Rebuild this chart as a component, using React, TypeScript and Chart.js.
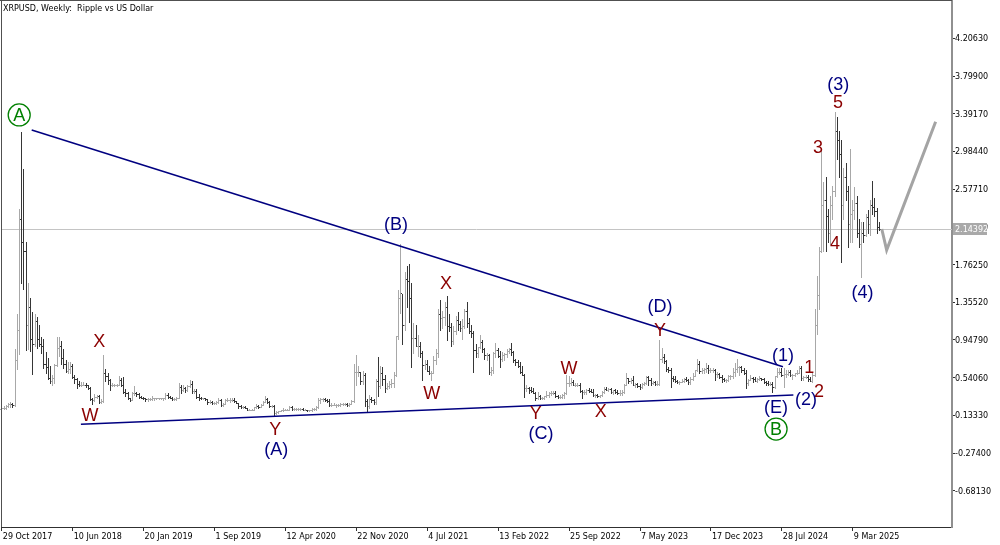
import React, { useEffect, useRef } from "react";
import { Chart, registerables } from "chart.js";

Chart.register(...registerables);

// ---------- data ----------
const chartTitle = "XRPUSD, Weekly:  Ripple vs US Dollar";
const dateLabels = [
  "29 Oct 2017", "10 Jun 2018", "20 Jan 2019", "1 Sep 2019", "12 Apr 2020", "22 Nov 2020",
  "4 Jul 2021", "13 Feb 2022", "25 Sep 2022", "7 May 2023", "17 Dec 2023", "28 Jul 2024", "9 Mar 2025",
];
const weeksPerLabel = 32;
const priceTicks = [4.2063, 3.799, 3.3917, 2.9844, 2.5771, 2.1698, 1.7625, 1.3552, 0.9479, 0.5406, 0.1333, -0.274, -0.6813];
const lastPrice = 2.14392;
const firstOpen = 0.2;

// weekly bars from 29 Oct 2017 (index 0) to 1 Jun 2025 (index 396)
const highs = [
  0.215, 0.225, 0.24, 0.26, 0.27, 0.26, 0.84, 1.22, 2.36, 3.19,
  2.79, 2.0, 1.56, 1.4, 1.24, 1.22, 1.19, 1.1, 0.97, 0.95,
  0.81, 0.75, 0.66, 0.56, 0.68, 0.97, 0.97, 0.93, 0.84, 0.72,
  0.7, 0.7, 0.68, 0.56, 0.53, 0.5, 0.49, 0.49, 0.48, 0.46,
  0.43, 0.31, 0.36, 0.35, 0.35, 0.3, 0.78, 0.63, 0.58, 0.52,
  0.48, 0.47, 0.47, 0.55, 0.53, 0.54, 0.41, 0.38, 0.31, 0.38,
  0.44, 0.38, 0.37, 0.34, 0.33, 0.32, 0.31, 0.31, 0.34, 0.32,
  0.32, 0.32, 0.32, 0.31, 0.37, 0.37, 0.34, 0.33, 0.31, 0.33,
  0.48, 0.45, 0.45, 0.43, 0.45, 0.51, 0.5, 0.41, 0.41, 0.36,
  0.33, 0.32, 0.32, 0.3, 0.29, 0.28, 0.27, 0.28, 0.32, 0.3,
  0.26, 0.3, 0.31, 0.31, 0.31, 0.31, 0.28, 0.26, 0.24, 0.23,
  0.23, 0.21, 0.2, 0.2, 0.22, 0.25, 0.24, 0.25, 0.28, 0.34,
  0.31, 0.28, 0.24, 0.24, 0.17, 0.17, 0.19, 0.21, 0.2, 0.2,
  0.23, 0.23, 0.21, 0.21, 0.21, 0.21, 0.21, 0.2, 0.19, 0.19,
  0.21, 0.21, 0.23, 0.31, 0.32, 0.32, 0.32, 0.3, 0.3, 0.26,
  0.26, 0.25, 0.25, 0.26, 0.26, 0.26, 0.26, 0.26, 0.29, 0.68,
  0.78, 0.66, 0.6, 0.61, 0.59, 0.3, 0.35, 0.33, 0.3, 0.52,
  0.76, 0.66, 0.65, 0.56, 0.48, 0.5, 0.52, 0.6, 0.99, 1.48,
  1.98, 1.44, 1.68, 1.74, 1.76, 1.56, 1.12, 1.1, 1.0, 0.92,
  0.82, 0.72, 0.72, 0.66, 0.61, 0.77, 0.84, 1.28, 1.37, 1.25,
  1.35, 1.42, 1.22, 1.12, 1.09, 1.2, 1.24, 1.15, 1.17, 1.28,
  1.35, 1.18, 1.1, 1.04, 0.9, 0.87, 1.0, 0.94, 0.85, 0.8,
  0.79, 0.65, 0.81, 0.91, 0.86, 0.82, 0.81, 0.8, 0.84, 0.86,
  0.91, 0.82, 0.74, 0.73, 0.7, 0.66, 0.57, 0.45, 0.43, 0.43,
  0.42, 0.38, 0.38, 0.35, 0.33, 0.34, 0.39, 0.38, 0.39, 0.39,
  0.39, 0.35, 0.35, 0.36, 0.38, 0.56, 0.55, 0.53, 0.51, 0.48,
  0.48, 0.48, 0.4, 0.4, 0.41, 0.42, 0.41, 0.41, 0.36, 0.36,
  0.35, 0.39, 0.43, 0.43, 0.42, 0.42, 0.4, 0.41, 0.4, 0.4,
  0.4, 0.47, 0.58, 0.53, 0.53, 0.55, 0.48, 0.48, 0.47, 0.48,
  0.49, 0.55, 0.55, 0.53, 0.5, 0.5, 0.5, 0.94, 0.85, 0.79,
  0.72, 0.65, 0.64, 0.55, 0.55, 0.51, 0.5, 0.52, 0.53, 0.54,
  0.52, 0.54, 0.58, 0.62, 0.74, 0.71, 0.64, 0.64, 0.69, 0.67,
  0.64, 0.64, 0.63, 0.6, 0.58, 0.56, 0.53, 0.52, 0.56, 0.56,
  0.64, 0.69, 0.74, 0.66, 0.66, 0.64, 0.62, 0.52, 0.56, 0.54,
  0.54, 0.53, 0.55, 0.53, 0.53, 0.5, 0.5, 0.49, 0.49, 0.55,
  0.64, 0.64, 0.64, 0.64, 0.62, 0.62, 0.62, 0.57, 0.59, 0.62,
  0.66, 0.66, 0.55, 0.56, 0.56, 0.54, 0.58, 1.28, 1.63, 1.95,
  3.0, 2.65, 2.7, 2.36, 2.5, 2.6, 3.41, 3.35, 3.2, 3.1,
  2.8, 2.85, 2.6, 3.0, 2.45, 2.59, 2.5, 2.25, 2.22, 2.22,
  2.3, 2.35, 2.45, 2.66, 2.48, 2.37, 2.22,
];
const lows = [
  0.195, 0.195, 0.2, 0.22, 0.22, 0.22, 0.23, 0.63, 0.79, 1.56,
  1.49, 0.83, 0.84, 0.82, 0.57, 0.88, 0.85, 0.88, 0.8, 0.64,
  0.59, 0.52, 0.48, 0.46, 0.48, 0.66, 0.77, 0.68, 0.64, 0.6,
  0.59, 0.59, 0.53, 0.48, 0.42, 0.44, 0.44, 0.45, 0.43, 0.41,
  0.29, 0.25, 0.28, 0.32, 0.26, 0.26, 0.27, 0.5, 0.47, 0.4,
  0.44, 0.44, 0.44, 0.46, 0.44, 0.37, 0.34, 0.3, 0.28, 0.29,
  0.35, 0.34, 0.31, 0.31, 0.3, 0.28, 0.28, 0.29, 0.29, 0.29,
  0.3, 0.3, 0.3, 0.29, 0.3, 0.32, 0.32, 0.29, 0.29, 0.29,
  0.32, 0.37, 0.39, 0.38, 0.39, 0.43, 0.37, 0.37, 0.31, 0.29,
  0.3, 0.3, 0.29, 0.25, 0.26, 0.25, 0.25, 0.25, 0.26, 0.23,
  0.23, 0.25, 0.28, 0.27, 0.28, 0.27, 0.26, 0.21, 0.21, 0.21,
  0.21, 0.18, 0.18, 0.19, 0.19, 0.21, 0.21, 0.22, 0.24, 0.27,
  0.26, 0.22, 0.22, 0.12, 0.14, 0.15, 0.17, 0.17, 0.18, 0.18,
  0.19, 0.19, 0.18, 0.19, 0.19, 0.19, 0.19, 0.18, 0.17, 0.17,
  0.17, 0.19, 0.19, 0.21, 0.26, 0.28, 0.28, 0.27, 0.23, 0.23,
  0.24, 0.22, 0.23, 0.23, 0.24, 0.24, 0.23, 0.23, 0.25, 0.27,
  0.45, 0.55, 0.47, 0.47, 0.23, 0.17, 0.21, 0.27, 0.25, 0.25,
  0.34, 0.42, 0.45, 0.38, 0.41, 0.42, 0.43, 0.43, 0.55, 0.95,
  1.23, 0.9, 1.05, 1.3, 1.14, 0.65, 0.8, 0.88, 0.77, 0.76,
  0.51, 0.63, 0.61, 0.57, 0.51, 0.59, 0.68, 0.76, 1.05, 1.07,
  1.1, 0.94, 1.04, 0.88, 0.9, 1.01, 1.05, 1.04, 0.95, 1.07,
  1.08, 1.02, 0.97, 0.6, 0.76, 0.76, 0.85, 0.81, 0.74, 0.73,
  0.57, 0.56, 0.58, 0.76, 0.76, 0.65, 0.71, 0.73, 0.76, 0.8,
  0.78, 0.7, 0.67, 0.65, 0.59, 0.56, 0.33, 0.39, 0.37, 0.38,
  0.37, 0.29, 0.3, 0.3, 0.3, 0.3, 0.33, 0.33, 0.35, 0.36,
  0.33, 0.32, 0.32, 0.32, 0.32, 0.36, 0.44, 0.46, 0.46, 0.44,
  0.44, 0.38, 0.32, 0.36, 0.36, 0.38, 0.38, 0.34, 0.33, 0.33,
  0.33, 0.34, 0.37, 0.4, 0.39, 0.37, 0.36, 0.37, 0.36, 0.35,
  0.35, 0.37, 0.45, 0.48, 0.48, 0.45, 0.43, 0.43, 0.41, 0.42,
  0.45, 0.47, 0.45, 0.46, 0.47, 0.46, 0.46, 0.46, 0.7, 0.69,
  0.61, 0.6, 0.43, 0.5, 0.49, 0.48, 0.47, 0.49, 0.49, 0.5,
  0.47, 0.47, 0.51, 0.55, 0.61, 0.58, 0.58, 0.58, 0.6, 0.58,
  0.6, 0.6, 0.51, 0.54, 0.53, 0.49, 0.5, 0.49, 0.5, 0.52,
  0.53, 0.55, 0.6, 0.56, 0.6, 0.57, 0.42, 0.46, 0.51, 0.49,
  0.5, 0.49, 0.51, 0.51, 0.48, 0.46, 0.46, 0.46, 0.38, 0.42,
  0.54, 0.57, 0.55, 0.43, 0.54, 0.56, 0.55, 0.52, 0.55, 0.57,
  0.58, 0.51, 0.51, 0.53, 0.5, 0.5, 0.49, 0.55, 1.01, 1.28,
  1.89, 1.9, 1.9, 2.0, 1.98, 2.25, 2.5, 2.9, 2.7, 1.78,
  2.25, 2.45, 1.95, 2.0, 2.0, 2.25, 2.05, 1.95, 1.62, 2.0,
  2.06, 2.1, 2.08, 2.3, 2.28, 2.1, 2.13,
];
const closes = [
  0.205, 0.205, 0.23, 0.245, 0.25, 0.24, 0.72, 1.05, 2.25, 2.0,
  1.9, 1.1, 1.3, 0.95, 0.9, 1.15, 0.95, 0.9, 0.88, 0.68,
  0.65, 0.53, 0.5, 0.53, 0.67, 0.85, 0.88, 0.75, 0.68, 0.61,
  0.63, 0.66, 0.54, 0.52, 0.47, 0.46, 0.46, 0.46, 0.45, 0.42,
  0.3, 0.29, 0.33, 0.34, 0.27, 0.28, 0.58, 0.55, 0.51, 0.46,
  0.46, 0.46, 0.46, 0.51, 0.46, 0.38, 0.37, 0.31, 0.29, 0.37,
  0.37, 0.36, 0.33, 0.32, 0.31, 0.3, 0.3, 0.3, 0.31, 0.31,
  0.31, 0.31, 0.31, 0.31, 0.35, 0.33, 0.32, 0.3, 0.3, 0.32,
  0.43, 0.4, 0.42, 0.4, 0.44, 0.47, 0.39, 0.39, 0.33, 0.32,
  0.31, 0.31, 0.3, 0.27, 0.27, 0.26, 0.26, 0.27, 0.29, 0.24,
  0.25, 0.29, 0.29, 0.29, 0.29, 0.28, 0.26, 0.23, 0.22, 0.22,
  0.21, 0.19, 0.19, 0.19, 0.22, 0.23, 0.22, 0.24, 0.27, 0.3,
  0.27, 0.23, 0.23, 0.15, 0.16, 0.17, 0.18, 0.19, 0.19, 0.19,
  0.22, 0.2, 0.2, 0.2, 0.2, 0.2, 0.19, 0.19, 0.18, 0.18,
  0.2, 0.2, 0.22, 0.29, 0.3, 0.3, 0.29, 0.28, 0.24, 0.24,
  0.24, 0.24, 0.24, 0.25, 0.25, 0.25, 0.24, 0.25, 0.28, 0.6,
  0.6, 0.6, 0.5, 0.56, 0.28, 0.23, 0.3, 0.29, 0.27, 0.5,
  0.44, 0.59, 0.52, 0.42, 0.44, 0.47, 0.48, 0.56, 0.98, 1.4,
  1.45, 1.1, 1.6, 1.58, 1.4, 0.96, 0.96, 0.88, 0.88, 0.8,
  0.67, 0.68, 0.61, 0.58, 0.59, 0.73, 0.8, 1.22, 1.18, 1.19,
  1.3, 1.09, 1.08, 0.93, 1.04, 1.16, 1.11, 1.07, 1.09, 1.25,
  1.12, 1.04, 1.02, 0.83, 0.8, 0.87, 0.92, 0.84, 0.78, 0.78,
  0.6, 0.62, 0.8, 0.83, 0.77, 0.74, 0.78, 0.79, 0.82, 0.84,
  0.81, 0.73, 0.7, 0.66, 0.6, 0.56, 0.42, 0.42, 0.4, 0.39,
  0.37, 0.31, 0.34, 0.32, 0.32, 0.34, 0.35, 0.37, 0.37, 0.37,
  0.34, 0.33, 0.33, 0.35, 0.37, 0.48, 0.48, 0.49, 0.46, 0.46,
  0.46, 0.39, 0.38, 0.38, 0.4, 0.39, 0.38, 0.35, 0.35, 0.34,
  0.35, 0.38, 0.41, 0.4, 0.41, 0.38, 0.4, 0.38, 0.37, 0.37,
  0.38, 0.45, 0.53, 0.5, 0.51, 0.46, 0.47, 0.44, 0.43, 0.47,
  0.48, 0.54, 0.51, 0.48, 0.49, 0.47, 0.47, 0.74, 0.76, 0.71,
  0.63, 0.62, 0.53, 0.52, 0.5, 0.49, 0.49, 0.5, 0.52, 0.51,
  0.49, 0.52, 0.55, 0.62, 0.68, 0.61, 0.62, 0.63, 0.64, 0.62,
  0.62, 0.62, 0.57, 0.57, 0.54, 0.52, 0.51, 0.51, 0.55, 0.55,
  0.6, 0.63, 0.65, 0.65, 0.62, 0.58, 0.48, 0.51, 0.53, 0.52,
  0.5, 0.52, 0.53, 0.52, 0.49, 0.48, 0.47, 0.47, 0.43, 0.55,
  0.6, 0.6, 0.56, 0.57, 0.57, 0.6, 0.56, 0.56, 0.59, 0.59,
  0.64, 0.53, 0.54, 0.54, 0.52, 0.5, 0.56, 1.1, 1.43, 1.9,
  2.4, 2.45, 2.28, 2.1, 2.4, 2.55, 3.2, 3.1, 2.95, 2.4,
  2.7, 2.55, 2.2, 2.3, 2.35, 2.42, 2.1, 1.98, 2.1, 2.08,
  2.27, 2.2, 2.4, 2.38, 2.33, 2.16, 2.14392,
];

// trend lines and projection (x = week index, y = price)
const upperLine = [{ x: 13.5, y: 3.216 }, { x: 352.5, y: 0.658 }];
const lowerLine = [{ x: 35.7, y: 0.036 }, { x: 357.2, y: 0.353 }];
const projection = [{ x: 397.1, y: 2.146 }, { x: 399.3, y: 1.919 }, { x: 421.4, y: 3.305 }];

const NAVY = "#000080";
const MAROON = "#8b0000";
const GREEN = "#008000";

const waveLabels = [
  { text: "A", x: 7.85, y: 3.378, color: GREEN, circle: true },
  { text: "W", x: 39.8, y: 0.137, color: MAROON },
  { text: "X", x: 44.0, y: 0.941, color: MAROON },
  { text: "Y", x: 123.4, y: -0.007, color: MAROON },
  { text: "(A)", x: 123.8, y: -0.231, color: NAVY },
  { text: "(B)", x: 177.9, y: 2.2, color: NAVY },
  { text: "X", x: 200.4, y: 1.568, color: MAROON },
  { text: "W", x: 194.0, y: 0.38, color: MAROON },
  { text: "Y", x: 241.0, y: 0.163, color: MAROON },
  { text: "(C)", x: 243.3, y: -0.058, color: NAVY },
  { text: "W", x: 256.0, y: 0.65, color: MAROON },
  { text: "X", x: 270.3, y: 0.185, color: MAROON },
  { text: "(D)", x: 297.0, y: 1.314, color: NAVY },
  { text: "Y", x: 297.0, y: 1.055, color: MAROON },
  { text: "(1)", x: 352.5, y: 0.785, color: NAVY },
  { text: "1", x: 364.4, y: 0.655, color: MAROON },
  { text: "2", x: 368.8, y: 0.396, color: MAROON },
  { text: "(2)", x: 362.9, y: 0.31, color: NAVY },
  { text: "(E)", x: 349.4, y: 0.223, color: NAVY },
  { text: "B", x: 349.4, y: -0.015, color: GREEN, circle: true },
  { text: "3", x: 368.3, y: 3.035, color: MAROON },
  { text: "(3)", x: 377.5, y: 3.715, color: NAVY },
  { text: "5", x: 377.4, y: 3.521, color: MAROON },
  { text: "4", x: 376.0, y: 2.0, color: MAROON },
  { text: "(4)", x: 388.4, y: 1.469, color: NAVY },
];

// ---------- view settings ----------
const X_MIN = -0.361;
const X_MAX = 428.79;
const Y_MIN = -1.0734;
const Y_MAX = 4.6093;
const BULL = "#a8a8a8";
const BEAR = "#363636";
const AXIS_FONT = { family: "'DejaVu Sans', sans-serif", size: 8 };

export default function App() {
  const ref = useRef<HTMLCanvasElement>(null);

  useEffect(() => {
    document.body.style.margin = "0";
    const canvas = ref.current;
    if (!canvas) return;
    const opens = closes.map((c, i) => (i === 0 ? firstOpen : closes[i - 1]));

    const ohlcPlugin = {
      id: "ohlcBars",
      beforeDatasetsDraw(chart: any) {
        const { ctx, chartArea } = chart;
        const xs = chart.scales.x;
        const ys = chart.scales.y;
        ctx.save();
        const py = Math.floor(ys.getPixelForValue(lastPrice)) + 0.5;
        ctx.strokeStyle = "#c4c4c4";
        ctx.lineWidth = 1;
        ctx.beginPath();
        ctx.moveTo(chartArea.left, py);
        ctx.lineTo(chartArea.right, py);
        ctx.stroke();
        for (let i = 0; i < highs.length; i++) {
          const px = Math.floor(xs.getPixelForValue(i));
          const yh = Math.floor(ys.getPixelForValue(highs[i]));
          const yl = Math.floor(ys.getPixelForValue(lows[i]));
          const yo = Math.floor(ys.getPixelForValue(opens[i]));
          const yc = Math.floor(ys.getPixelForValue(closes[i]));
          ctx.fillStyle = closes[i] >= opens[i] ? BULL : BEAR;
          ctx.fillRect(px, yh, 1, Math.max(1, yl - yh + 1));
          ctx.fillRect(px - 1, yo, 1, 1);
          ctx.fillRect(px + 1, yc, 1, 1);
        }
        ctx.restore();
      },
    };

    const labelPlugin = {
      id: "waveLabels",
      afterDatasetsDraw(chart: any) {
        const { ctx } = chart;
        const xs = chart.scales.x;
        const ys = chart.scales.y;
        ctx.save();
        ctx.font = "18px 'Liberation Sans', Arial, sans-serif";
        ctx.textAlign = "center";
        ctx.textBaseline = "alphabetic";
        for (const l of waveLabels) {
          const px = xs.getPixelForValue(l.x);
          const py = ys.getPixelForValue(l.y);
          ctx.fillStyle = l.color;
          if (l.circle) {
            ctx.strokeStyle = l.color;
            ctx.lineWidth = 1.3;
            ctx.beginPath();
            ctx.arc(px, py, 11, 0, Math.PI * 2);
            ctx.stroke();
          }
          ctx.fillText(l.text, px, py + 6.4);
        }
        ctx.font = "8px 'DejaVu Sans', sans-serif";
        ctx.fillStyle = "#000";
        ctx.textAlign = "left";
        ctx.fillText(chartTitle, 3, 11);
        ctx.restore();
      },
      afterDraw(chart: any) {
        const { ctx, chartArea } = chart;
        const ys = chart.scales.y;
        ctx.save();
        // frame
        ctx.fillStyle = "#505050";
        ctx.fillRect(chartArea.left, 0, 1, chartArea.bottom);
        ctx.fillRect(0, 0, chartArea.right, 1);
        // current price box
        const py = ys.getPixelForValue(lastPrice);
        ctx.fillStyle = "#a9a9a9";
        ctx.fillRect(chartArea.right + 1, Math.round(py) - 6, 34, 12);
        ctx.fillStyle = "#ffffff";
        ctx.font = "8px 'DejaVu Sans', sans-serif";
        ctx.textAlign = "left";
        ctx.textBaseline = "middle";
        ctx.fillText(lastPrice.toFixed(5), chartArea.right + 3, py + 1);
        ctx.restore();
      },
    };

    const chart = new Chart(canvas, {
      type: "line",
      data: {
        datasets: [
          { data: upperLine, borderColor: NAVY, borderWidth: 1.6, pointRadius: 0, tension: 0 },
          { data: lowerLine, borderColor: NAVY, borderWidth: 1.6, pointRadius: 0, tension: 0 },
          { data: projection, borderColor: "#a4a4a4", borderWidth: 3, pointRadius: 0, tension: 0 },
        ],
      },
      options: {
        animation: false,
        responsive: false,
        devicePixelRatio: 1,
        layout: { padding: { left: 1, top: 1, right: 0, bottom: 0 } },
        plugins: { legend: { display: false }, tooltip: { enabled: false } },
        scales: {
          x: {
            type: "linear",
            position: "bottom",
            min: X_MIN,
            max: X_MAX,
            bounds: "data",
            afterBuildTicks: (axis: any) => {
              axis.ticks = dateLabels.map((_, j) => ({ value: j * weeksPerLabel }));
            },
            afterFit: (axis: any) => {
              axis.height = 18;
              axis.paddingLeft = 0;
              axis.paddingRight = 0;
            },
            ticks: {
              autoSkip: false,
              maxRotation: 0,
              minRotation: 0,
              align: "start",
              padding: 1,
              labelOffset: 1,
              color: "#000",
              font: AXIS_FONT,
              callback: (_v: any, i: number) => dateLabels[i],
            },
            grid: { drawOnChartArea: false, drawTicks: true, tickLength: 4, color: "#303030" },
            border: { display: true, color: "#303030", width: 1 },
          },
          y: {
            type: "linear",
            position: "right",
            min: Y_MIN,
            max: Y_MAX,
            bounds: "data",
            afterBuildTicks: (axis: any) => {
              axis.ticks = priceTicks.map((v) => ({ value: v }));
            },
            afterFit: (axis: any) => {
              axis.width = 48;
              axis.paddingTop = 0;
              axis.paddingBottom = 0;
            },
            ticks: {
              padding: 0,
              labelOffset: 1,
              crossAlign: "near",
              color: "#000",
              font: AXIS_FONT,
              callback: (v: any) => Number(v).toFixed(5),
            },
            grid: { drawOnChartArea: false, drawTicks: true, tickLength: 3, color: "#303030" },
            border: { display: true, color: "#909090", width: 2 },
          },
        },
      },
      plugins: [ohlcPlugin, labelPlugin],
    } as any);

    return () => chart.destroy();
  }, []);

  return (
    <div style={{ position: "fixed", left: 0, top: 0, width: 1000, height: 545, background: "#ffffff" }}>
      <canvas ref={ref} width={1000} height={545} style={{ display: "block", width: 1000, height: 545 }} />
    </div>
  );
}
